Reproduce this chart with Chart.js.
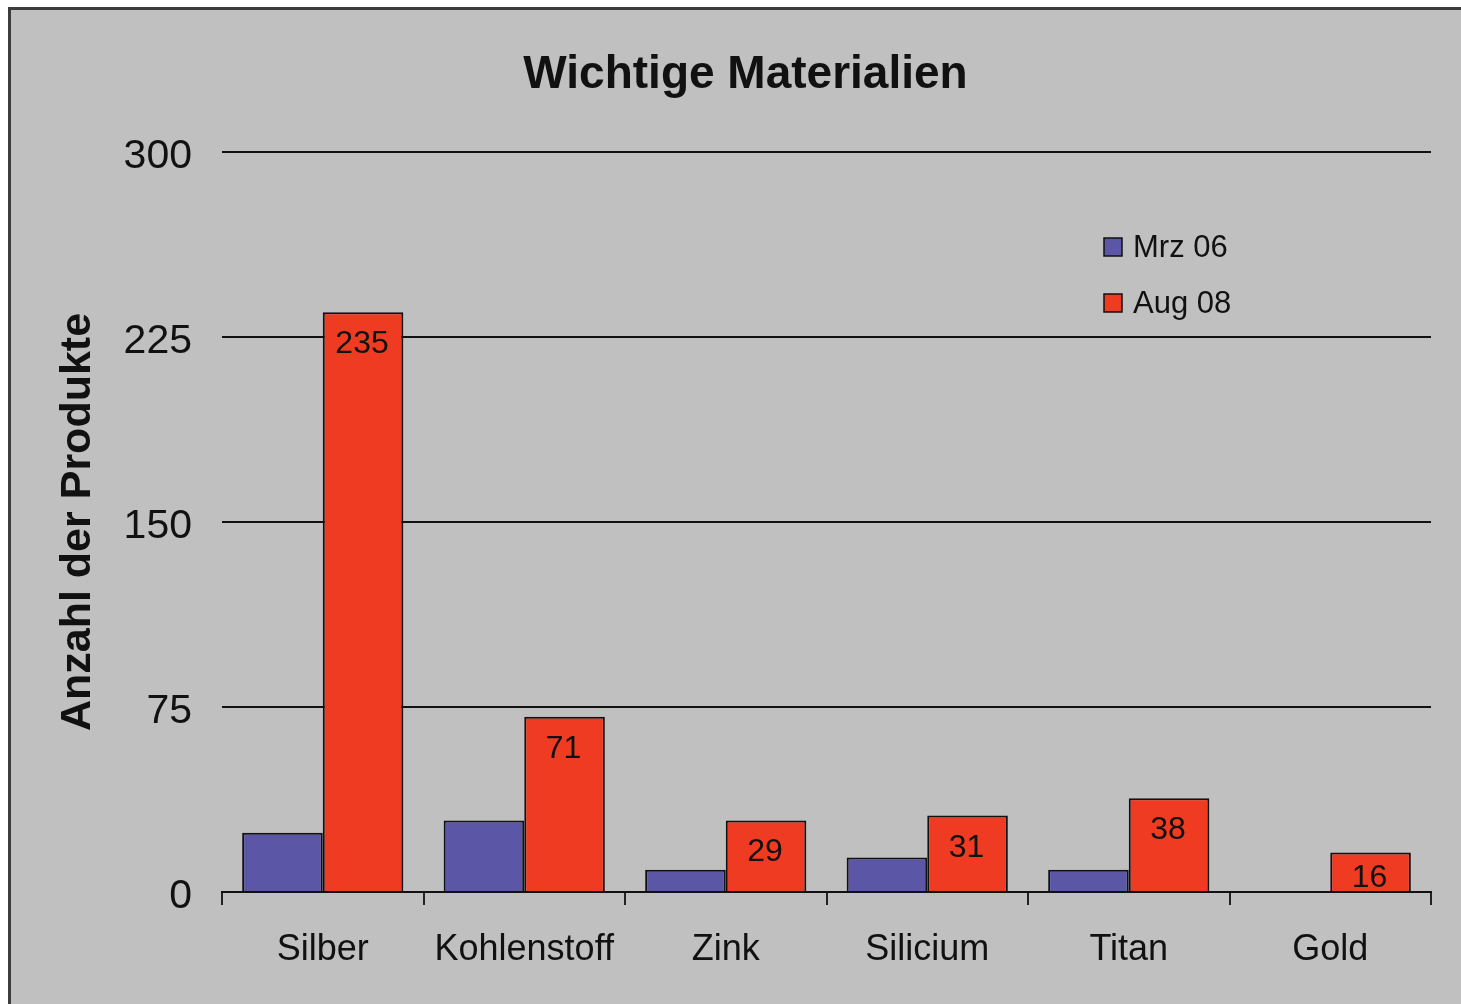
<!DOCTYPE html>
<html>
<head>
<meta charset="utf-8">
<script src="https://cdn.jsdelivr.net/npm/chart.js@4.4.1/dist/chart.umd.min.js"></script>
<style>
  html, body { margin: 0; padding: 0; background: #ffffff; }
  #wrap { position: absolute; left: 0; top: 0; width: 1461px; height: 1004px; }
</style>
</head>
<body>
<div id="wrap"><canvas id="c" width="1461" height="1004"></canvas></div>
<script>
const categories = ['Silber', 'Kohlenstoff', 'Zink', 'Silicium', 'Titan', 'Gold'];
const seriesNames = ['Mrz 06', 'Aug 08'];
const mrz06 = [24, 29, 9, 14, 9, 0];
const aug08 = [235, 71, 29, 31, 38, 16];
const labeledSeries = [false, true];
const yTicks = [0, 75, 150, 225, 300];
const chartTitle = 'Wichtige Materialien';
const yTitle = 'Anzahl der Produkte';

const FONT = "'Liberation Sans', Arial, sans-serif";

const framePlugin = {
  id: 'frame',
  beforeDraw(chart) {
    const ctx = chart.ctx;
    ctx.save();
    ctx.fillStyle = '#ffffff';
    ctx.fillRect(0, 0, chart.width, chart.height);
    ctx.fillStyle = '#c0c0c0';
    ctx.fillRect(9, 7, chart.width - 9, chart.height - 7);
    ctx.fillStyle = '#3c3c3c';
    ctx.fillRect(8, 7, chart.width - 8, 3);
    ctx.fillRect(8, 7, 3, chart.height - 7);
    ctx.restore();
  }
};

const valueLabelPlugin = {
  id: 'valueLabels',
  afterDatasetsDraw(chart) {
    const ctx = chart.ctx;
    const yScale = chart.scales.y;
    const base = yScale.getPixelForValue(0);
    ctx.save();
    ctx.font = '32px ' + FONT;
    ctx.fillStyle = '#111111';
    ctx.textAlign = 'center';
    ctx.textBaseline = 'alphabetic';
    chart.data.datasets.forEach((ds, di) => {
      if (!labeledSeries[di]) return;
      const meta = chart.getDatasetMeta(di);
      meta.data.forEach((el, i) => {
        const v = ds.data[i];
        if (!v) return;
        const yb = Math.min(el.y + 41, base - 5);
        ctx.fillText(String(v), el.x - 1, yb);
      });
    });
    ctx.restore();
  }
};

const legendPlugin = {
  id: 'customLegend',
  afterDraw(chart) {
    const ctx = chart.ctx;
    const ca = chart.chartArea;
    const x0 = ca.left + 882;
    const ys = [ca.top + 95, ca.top + 151];
    ctx.save();
    ctx.font = '31px ' + FONT;
    ctx.textBaseline = 'middle';
    ctx.textAlign = 'left';
    chart.data.datasets.forEach((ds, i) => {
      const y = ys[i];
      ctx.fillStyle = ds.backgroundColor;
      ctx.fillRect(x0, y - 9, 18, 18);
      ctx.lineWidth = 1.5;
      ctx.strokeStyle = '#111111';
      ctx.strokeRect(x0, y - 9, 18, 18);
      ctx.fillStyle = '#111111';
      ctx.fillText(ds.label, x0 + 29, y + 1);
    });
    ctx.restore();
  }
};

new Chart(document.getElementById('c'), {
  type: 'bar',
  data: {
    labels: categories,
    datasets: [
      { label: seriesNames[0], data: mrz06, backgroundColor: '#5b56a6', borderColor: '#111111', borderWidth: 2 },
      { label: seriesNames[1], data: aug08, backgroundColor: '#ee3b22', borderColor: '#111111', borderWidth: 2 }
    ]
  },
  options: {
    responsive: false,
    animation: false,
    devicePixelRatio: 1,
    layout: { padding: { left: 60, right: 30, top: 0, bottom: 0 } },
    datasets: { bar: { categoryPercentage: 0.8, barPercentage: 1.0, borderSkipped: 'start' } },
    plugins: {
      legend: { display: false },
      tooltip: { enabled: false },
      title: {
        display: true,
        text: chartTitle,
        color: '#111111',
        font: { family: FONT, size: 46, weight: 'bold', lineHeight: 1.2 },
        padding: { top: 48, bottom: 48.8 }
      }
    },
    scales: {
      x: {
        offset: true,
        grid: { display: true, drawOnChartArea: false, drawTicks: true, tickLength: 13, color: '#222222', lineWidth: 2, offset: true },
        border: { display: true, color: '#111111', width: 2 },
        ticks: { color: '#111111', font: { family: FONT, size: 36 }, padding: 23, maxRotation: 0, autoSkip: false },
        afterFit(scale) { scale.height = 112; }
      },
      y: {
        min: 0,
        max: 300,
        afterBuildTicks(scale) { scale.ticks = yTicks.map(v => ({ value: v })); },
        grid: { color: '#111111', lineWidth: 2, drawTicks: false },
        border: { display: false },
        ticks: { color: '#111111', font: { family: FONT, size: 41 }, padding: 30, labelOffset: 5 },
        title: {
          display: true,
          text: yTitle,
          color: '#111111',
          font: { family: FONT, size: 43, weight: 'bold', lineHeight: 1 },
          padding: { top: -3, bottom: 0 }
        },
        afterFit(scale) { scale.width = 162; }
      }
    }
  },
  plugins: [framePlugin, valueLabelPlugin, legendPlugin]
});
</script>
</body>
</html>
